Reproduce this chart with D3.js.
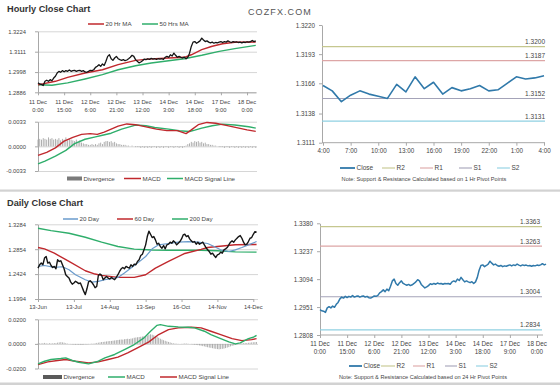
<!DOCTYPE html>
<html><head><meta charset="utf-8">
<script src="https://cdn.jsdelivr.net/npm/d3@7"></script>
<style>
html,body{margin:0;padding:0;background:#fff;}
svg{display:block;}
</style></head><body>
<svg id="chart" width="560" height="385"></svg>
<script>
// ================= DATA =================
const hourTickIdx = [0,15,30,45,60,75,90,105,120];
const hourTickLabels = [["11 Dec","0:00"],["11 Dec","15:00"],["12 Dec","6:00"],["12 Dec","21:00"],["13 Dec","12:00"],["14 Dec","3:00"],["14 Dec","18:00"],["17 Dec","9:00"],["18 Dec","0:00"]];

const hourlyClose = [
1.2938,1.2932,1.2930,1.2924,1.2947,1.2953,1.2947,1.2956,1.2950,1.2965,
1.2975,1.2993,1.3002,1.2997,1.3006,1.3000,1.3006,1.3002,1.3010,1.3002,
1.3006,1.3008,1.3002,1.3006,1.3008,1.3002,1.3006,1.2999,1.2997,1.3002,
1.3008,1.3006,1.3011,1.3024,1.3030,1.3039,1.3030,1.3043,1.3035,1.3058,
1.3085,1.3094,1.3072,1.3063,1.3076,1.3085,1.3072,1.3067,1.3063,1.3067,
1.3061,1.3065,1.3072,1.3080,1.3091,1.3085,1.3067,1.3058,1.3049,1.3054,
1.3061,1.3070,1.3067,1.3072,1.3068,1.3074,1.3070,1.3072,1.3068,1.3072,
1.3070,1.3072,1.3068,1.3080,1.3085,1.3080,1.3094,1.3087,1.3103,1.3091,
1.3080,1.3085,1.3080,1.3076,1.3081,1.3072,1.3080,1.3103,1.3140,1.3164,
1.3167,1.3158,1.3164,1.3171,1.3186,1.3176,1.3167,1.3171,1.3164,1.3160,
1.3164,1.3158,1.3162,1.3160,1.3164,1.3167,1.3162,1.3167,1.3164,1.3171,
1.3166,1.3162,1.3167,1.3164,1.3166,1.3162,1.3164,1.3160,1.3164,1.3162,
1.3166,1.3164,1.3167,1.3173,1.3167,1.3171];

const ma20HourIdx = [0,10,17,27,37,46,56,65,75,84,88,94,100,106,113,125];
const ma20Hour    = [1.2927,1.2947,1.2969,1.2993,1.3011,1.3039,1.3063,1.3071,1.3076,1.3080,1.3094,1.3122,1.3141,1.3155,1.3163,1.3165];
const ma50HourIdx = [0,8,17,27,37,46,56,65,75,84,94,104,113,125];
const ma50Hour    = [1.2928,1.2925,1.2938,1.2960,1.2984,1.3011,1.3033,1.3048,1.3061,1.3072,1.3091,1.3113,1.3128,1.3146];

const macdHourIdx = [0,5,10,15,20,25,30,34,38,42,46,51,56,62,68,74,80,85,88,92,97,102,108,114,120,125];
const macdHour    = [-0.0012,-0.0008,-0.0002,0.0007,0.0012,0.0016,0.0017,0.0016,0.0019,0.0023,0.0027,0.0030,0.0029,0.0026,0.0023,0.0021,0.0021,0.0017,0.0022,0.0029,0.0032,0.0031,0.0028,0.0025,0.0022,0.0020];
const sigHourIdx  = [0,4,10,16,21,27,33,37,42,48,56,62,67,75,81,87,90,94,100,106,113,121,125];
const sigHour     = [-0.00235,-0.00199,-0.00131,-0.00054,0.00036,0.00095,0.00127,0.00149,0.00176,0.00231,0.00285,0.00276,0.00253,0.00231,0.00208,0.00199,0.00217,0.00244,0.00276,0.00298,0.00285,0.00262,0.00244];
const divHour = [
0.0009,0.0010,0.0009,0.0011,0.0010,0.0009,0.0012,0.0010,0.0011,0.0009,
0.0010,0.0009,0.0011,0.0008,0.0010,0.0009,0.0012,0.0008,0.0010,0.0009,
0.0008,0.0007,0.0009,0.0006,0.0008,0.0005,0.0004,0.0003,0.0003,0.0002,
0.0002,0.0003,0.0002,0.0003,0.0002,0.0004,0.0005,0.0003,0.0006,0.0007,
0.0007,0.0006,0.0007,0.0005,0.0006,0.0004,0.0003,0.0003,0.0002,0.0002,
0.0002,0.0001,0.0001,0.0000,0.0001,0.0000,-0.0001,-0.0001,-0.0001,-0.0002,
-0.0001,-0.0002,-0.0001,-0.0002,-0.0001,-0.0002,-0.0001,-0.0001,-0.0002,-0.0001,
-0.0002,-0.0001,-0.0002,-0.0001,-0.0001,-0.0002,-0.0001,-0.0001,-0.0002,-0.0001,
-0.0001,-0.0002,-0.0001,-0.0002,-0.0001,0.0001,0.0003,0.0004,0.0006,0.0005,
0.0007,0.0006,0.0007,0.0005,0.0006,0.0004,0.0005,0.0003,0.0003,0.0002,
0.0002,0.0001,0.0001,0.0000,-0.0001,-0.0001,-0.0001,-0.0002,-0.0001,-0.0001,
-0.0002,-0.0001,-0.0001,-0.0002,-0.0001,-0.0002,-0.0001,-0.0002,-0.0001,-0.0002,
-0.0001,-0.0002,-0.0001,-0.0002,-0.0001,-0.0002];

const hourPriceTicks = [1.2886,1.2998,1.3111,1.3224];
const hourPriceLabels = ["1.2886","1.2998","1.3111","1.3224"];
const hourMacdTicks = [-0.0033,0,0.0033];
const hourMacdLabels = ["-0.0033","0.0000","0.0033"];

// 1-hour pivot chart (top right)
const pivotHourLabels = ["4:00","7:00","10:00","13:00","16:00","19:00","22:00","1:00","4:00"];
const pivotHourTickIdx = [0,3,6,9,12,15,18,21,24];
const pivotHourClose = [1.3164,1.3159,1.3149,1.3155,1.3159,1.3156,1.3154,1.3152,1.3165,1.3158,1.3172,1.3161,1.3167,1.3156,1.3162,1.3159,1.3161,1.3164,1.3159,1.3160,1.3166,1.3172,1.3170,1.3171,1.3173];
const pivotHourTicks = [1.3111,1.3138,1.3166,1.3193,1.3220];
const pivotHourTickLabels = ["1.3111","1.3138","1.3166","1.3193","1.3220"];
const levelNames = ["R2","R1","S1","S2"];
const hourLevels = [1.3200,1.3187,1.3152,1.3131];
const hourLevelLabels = ["1.3200","1.3187","1.3152","1.3131"];

// Daily chart
const dayTickIdx = [0,22,44,66,88,110,132];
const dayTickLabels = ["13-Jun","13-Jul","14-Aug","13-Sep","16-Oct","14-Nov","14-Dec"];
const dailyClose = [
1.2528,1.2585,1.2614,1.2585,1.2700,1.2728,1.2614,1.2631,1.2573,1.2539,
1.2556,1.2516,1.2671,1.2642,1.2654,1.2585,1.2516,1.2413,1.2384,1.2356,
1.2290,1.2250,1.2270,1.2300,1.2280,1.2260,1.2270,1.2200,1.2130,1.2070,
1.2170,1.2290,1.2310,1.2280,1.2240,1.2190,1.2210,1.2400,1.2425,1.2402,
1.2327,1.2356,1.2384,1.2356,1.2339,1.2367,1.2344,1.2327,1.2367,1.2413,
1.2470,1.2516,1.2539,1.2516,1.2556,1.2539,1.2528,1.2585,1.2556,1.2596,
1.2585,1.2642,1.2671,1.2745,1.2768,1.2843,1.2929,1.3072,1.3165,1.3112,
1.3055,1.3072,1.3015,1.2940,1.2957,1.2900,1.2871,1.2917,1.2860,1.2929,
1.2940,1.2975,1.2957,1.2998,1.2975,1.2929,1.2957,1.2986,1.3032,1.3101,
1.3112,1.3072,1.3089,1.3032,1.2998,1.2975,1.2986,1.2940,1.2975,1.2940,
1.2957,1.2975,1.2929,1.2883,1.2843,1.2814,1.2768,1.2785,1.2745,1.2711,
1.2757,1.2768,1.2803,1.2785,1.2843,1.2860,1.2883,1.2929,1.2975,1.2998,
1.2975,1.3015,1.3043,1.3072,1.3089,1.3043,1.2975,1.2929,1.2940,1.2986,
1.3043,1.3055,1.3112,1.3158,1.3147];

const ma20DayIdx = [0,4,10,15,19,23,29,33,37,41,45,49,53,57,61,66,70,74,80,86,92,98,104,108,112,117,121,125,129,134];
const ma20Day    = [1.2556,1.2573,1.2539,1.2551,1.2499,1.2413,1.2327,1.2287,1.2298,1.2327,1.2344,1.2367,1.2442,1.2528,1.2614,1.2728,1.2860,1.2929,1.2952,1.2975,1.2986,1.2975,1.2952,1.2900,1.2843,1.2814,1.2843,1.2883,1.2929,1.2986];
const ma60DayIdx = [0,4,10,19,29,35,39,49,59,66,72,80,90,100,104,110,121,134];
const ma60Day    = [1.2883,1.2860,1.2785,1.2642,1.2482,1.2425,1.2402,1.2367,1.2367,1.2413,1.2528,1.2642,1.2780,1.2850,1.2883,1.2900,1.2930,1.2935];
const ma200DayIdx = [0,8,19,29,39,49,59,70,80,90,100,110,121,134];
const ma200Day    = [1.3215,1.3175,1.3129,1.3060,1.2975,1.2900,1.2855,1.2840,1.2837,1.2837,1.2837,1.2826,1.2808,1.2803];

const macdDayIdx = [0,4,8,14,17,21,25,31,37,41,47,53,59,65,69,73,75,80,86,92,96,102,106,112,117,121,124,129,132,134];
const macdDay    = [-0.0162,-0.0141,-0.0127,-0.0119,-0.0114,-0.0135,-0.0149,-0.0162,-0.0141,-0.0114,-0.0086,-0.0046,-0.0005,0.0049,0.0103,0.0151,0.0157,0.0143,0.0138,0.0135,0.0130,0.0103,0.0076,0.0043,0.0016,0.0000,0.0008,0.0043,0.0054,0.0070];
const sigDayIdx = [0,6,12,17,23,31,37,43,49,55,61,68,74,80,86,94,100,106,112,119,125,131,134];
const sigDay    = [-0.0168,-0.0146,-0.0135,-0.0127,-0.0141,-0.0154,-0.0146,-0.0127,-0.0108,-0.0073,-0.0032,0.0016,0.0076,0.0116,0.0130,0.0135,0.0130,0.0103,0.0076,0.0043,0.0027,0.0035,0.0043];
const divDay = [
0.0003,0.0005,0.0004,0.0006,0.0008,0.0005,0.0003,0.0006,0.0004,0.0005,
0.0007,0.0006,0.0010,0.0012,0.0014,0.0012,0.0010,0.0006,0.0003,0.0001,
-0.0002,-0.0004,-0.0005,-0.0006,-0.0005,-0.0007,-0.0006,-0.0008,-0.0005,-0.0003,
-0.0004,-0.0002,0.0001,0.0003,0.0002,0.0005,0.0008,0.0010,0.0012,0.0015,
0.0016,0.0018,0.0020,0.0022,0.0023,0.0024,0.0026,0.0028,0.0030,0.0032,
0.0034,0.0036,0.0035,0.0038,0.0040,0.0042,0.0040,0.0043,0.0045,0.0050,
0.0052,0.0054,0.0056,0.0058,0.0060,0.0063,0.0065,0.0068,0.0075,0.0078,
0.0075,0.0070,0.0065,0.0060,0.0050,0.0042,0.0035,0.0030,0.0025,0.0020,
0.0016,0.0012,0.0008,0.0005,0.0003,0.0002,0.0001,0.0000,-0.0001,0.0002,
0.0004,0.0003,0.0002,0.0000,-0.0002,-0.0004,-0.0006,-0.0008,-0.0010,-0.0012,
-0.0015,-0.0018,-0.0020,-0.0024,-0.0027,-0.0030,-0.0032,-0.0035,-0.0038,-0.0040,
-0.0042,-0.0044,-0.0042,-0.0040,-0.0038,-0.0034,-0.0030,-0.0026,-0.0020,-0.0016,
-0.0012,-0.0008,-0.0004,0.0000,0.0003,0.0005,0.0006,0.0008,0.0007,0.0009,
0.0010,0.0012,0.0013,0.0014,0.0015];

const dayPriceTicks = [1.1994,1.2424,1.2854,1.3284];
const dayPriceLabels = ["1.1994","1.2424","1.2854","1.3284"];
const dayMacdTicks = [-0.02,0,0.02];
const dayMacdLabels = ["-0.0200","0.0000","0.0200"];

// 24-hour pivot chart (bottom right) uses hourlyClose
const pivotDayTicks = [1.2808,1.2951,1.3094,1.3237,1.3380];
const pivotDayTickLabels = ["1.2808","1.2951","1.3094","1.3237","1.3380"];
const dayLevels = [1.3363,1.3263,1.3004,1.2834];
const dayLevelLabels = ["1.3363","1.3263","1.3004","1.2834"];

// ================= STYLE =================
const FONT = '"Liberation Sans", Arial, Helvetica, sans-serif';
const C_RED = "#c0282d", C_GREEN = "#2fae6b", C_BLUE = "#6a9bcc", C_BLACK = "#151515";
const C_CLOSE = "#3079aa";
const levelColors = ["#c5c78f","#dda6a6","#a4a3b8","#8fd0e2"];
const AXC = "#a8a8a8", GRIDC = "#d6d6d6", TXT = "#454545";

const svg = d3.select("#chart").attr("font-family", FONT);

function txt(x, y, s, o = {}) {
  return svg.append("text").attr("x", x).attr("y", y).text(s)
    .attr("font-size", o.size || 6).attr("fill", o.fill || TXT)
    .attr("text-anchor", o.anchor || "start")
    .attr("font-weight", o.weight || "normal")
    .attr("dy", o.dy || 0);
}
function styleAxis(g, size) {
  g.attr("font-size", size).attr("font-family", FONT);
  g.select(".domain").attr("stroke", AXC);
  g.selectAll(".tick line").attr("stroke", AXC);
  g.selectAll(".tick text").attr("fill", TXT);
}

function leftPanel(x, y, ticks, labels, x0, x1) {
  svg.append("g").attr("transform", `translate(${x0},0)`)
    .call(d3.axisLeft(y).tickValues(ticks).tickSize(-(x1 - x0)).tickFormat(""))
    .call(g => { g.select(".domain").remove(); g.selectAll(".tick line").attr("stroke", GRIDC); });
  svg.append("g").attr("transform", `translate(${x0},0)`)
    .call(d3.axisLeft(y).tickValues(ticks).tickSize(3).tickSizeOuter(0).tickPadding(9).tickFormat((d, i) => labels[i]))
    .call(g => styleAxis(g, 5.8));
}
function bottomTicks(x, yPos, idx) {
  svg.append("g").attr("transform", `translate(0,${yPos})`)
    .call(d3.axisBottom(x).tickValues(idx).tickSize(3).tickSizeOuter(0).tickFormat(""))
    .call(g => styleAxis(g, 5.8));
}
function pathLine(xs, ys, x, y, color, w) {
  const line = d3.line().x(d => x(d[0])).y(d => y(d[1]));
  svg.append("path").datum(d3.zip(xs, ys)).attr("d", line)
    .attr("fill", "none").attr("stroke", color).attr("stroke-width", w)
    .attr("stroke-linejoin", "round");
}
function bars(vals, x, y, color) {
  svg.append("g").selectAll("rect").data(vals).join("rect")
    .attr("x", (d, i) => x(i) - 0.45).attr("width", 0.9)
    .attr("y", d => Math.min(y(0), y(d))).attr("height", d => Math.abs(y(d) - y(0)))
    .attr("fill", color);
}
function legend(items, y, size) {
  items.forEach(it => {
    if (it.type === "bar") {
      svg.append("rect").attr("x", it.a).attr("y", y - 2).attr("width", it.b - it.a).attr("height", 4).attr("fill", it.color);
    } else {
      svg.append("line").attr("x1", it.a).attr("x2", it.b).attr("y1", y).attr("y2", y)
        .attr("stroke", it.color).attr("stroke-width", it.w || 1.5);
    }
    txt(it.b + 1.5, y, it.label, { size: size, dy: "0.35em" });
  });
}

// ================= FRAME =================
svg.append("rect").attr("x", 0).attr("y", 189.5).attr("width", 560).attr("height", 2.2).attr("fill", "#d2d2d2");
svg.append("rect").attr("x", 0).attr("y", 382.5).attr("width", 560).attr("height", 2.5).attr("fill", "#d2d2d2");
txt(7, 11.5, "Hourly Close Chart", { size: 9.2, weight: "bold", fill: "#333" });
txt(7, 205.5, "Daily Close Chart", { size: 9.2, weight: "bold", fill: "#333" });
txt(248, 14.5, "COZFX.COM", { size: 9, fill: "#555" }).attr("letter-spacing", "1.1px");

// ================= HOURLY PRICE (top-left) =================
const xH = d3.scaleLinear().domain([0, 125]).range([38, 255.75]);
const yHP = d3.scaleLinear().domain([1.2886, 1.3224]).range([92.3, 31.3]);
leftPanel(xH, yHP, hourPriceTicks, hourPriceLabels, 38, 257);
bottomTicks(xH, 92.3, hourTickIdx);
hourTickIdx.forEach((t, i) => {
  txt(xH(t), 104, hourTickLabels[i][0], { size: 5.8, anchor: "middle" });
  txt(xH(t), 112, hourTickLabels[i][1], { size: 5.8, anchor: "middle" });
});
pathLine(ma50HourIdx, ma50Hour, xH, yHP, C_GREEN, 1.4);
pathLine(ma20HourIdx, ma20Hour, xH, yHP, C_RED, 1.4);
pathLine(d3.range(hourlyClose.length), hourlyClose, xH, yHP, C_BLACK, 1.3);
legend([
  { a: 88, b: 104, color: C_RED, label: "20 Hr MA" },
  { a: 142, b: 158, color: C_GREEN, label: "50 Hrs MA" }
], 24, 6.2);

// ================= HOURLY MACD =================
const yHM = d3.scaleLinear().domain([-0.0033, 0.0033]).range([171, 121.7]);
leftPanel(xH, yHM, hourMacdTicks, hourMacdLabels, 38, 257);
bars(divHour, xH, yHM, "#a6a6a6");
pathLine(sigHourIdx, sigHour, xH, yHM, C_GREEN, 1.4);
pathLine(macdHourIdx, macdHour, xH, yHM, C_RED, 1.4);
legend([
  { type: "bar", a: 67, b: 82, color: "#7a7a7a", label: "Divergence" },
  { a: 124, b: 141, color: C_RED, label: "MACD" },
  { a: 167, b: 183, color: C_GREEN, label: "MACD Signal Line" }
], 178.5, 6.2);

// ================= TOP-RIGHT 1 Hr pivot =================
const xP1 = d3.scaleLinear().domain([0, 24]).range([323, 544]);
const yP1 = d3.scaleLinear().domain([1.3111, 1.3220]).range([142.7, 25]);
svg.append("g").attr("transform", "translate(322,0)")
  .call(d3.axisLeft(yP1).tickValues(pivotHourTicks).tickSize(3).tickSizeOuter(0).tickPadding(4).tickFormat((d, i) => pivotHourTickLabels[i]))
  .call(g => styleAxis(g, 6.3));
svg.append("g").attr("transform", "translate(0,142.7)")
  .call(d3.axisBottom(xP1).tickValues(pivotHourTickIdx).tickSize(3).tickSizeOuter(0).tickPadding(3).tickFormat((d, i) => pivotHourLabels[i]))
  .call(g => { styleAxis(g, 6.3); g.select(".domain").attr("d", "M322,0H545"); });
hourLevels.forEach((v, i) => {
  svg.append("line").attr("x1", 322).attr("x2", 545).attr("y1", yP1(v)).attr("y2", yP1(v))
    .attr("stroke", levelColors[i]).attr("stroke-width", 1.1);
  txt(545, yP1(v) - 2.5, hourLevelLabels[i], { size: 6.5, anchor: "end" });
});
pathLine(d3.range(pivotHourClose.length), pivotHourClose, xP1, yP1, C_CLOSE, 1.6);
legend([
  { a: 340, b: 355, color: C_CLOSE, label: "Close", w: 1.8 },
  { a: 382, b: 395, color: levelColors[0], label: "R2", w: 1.1 },
  { a: 420, b: 433, color: levelColors[1], label: "R1", w: 1.1 },
  { a: 459, b: 472, color: levelColors[2], label: "S1", w: 1.1 },
  { a: 497, b: 510, color: levelColors[3], label: "S2", w: 1.1 }
], 168, 6.5);
txt(424, 180.5, "Note: Support & Resistance Calculated based on 1 Hr Pivot Points", { size: 5.6, anchor: "middle" });

// ================= DAILY PRICE =================
const xD = d3.scaleLinear().domain([0, 132]).range([38, 253.3]);
const yDP = d3.scaleLinear().domain([1.1994, 1.3284]).range([299, 224.3]);
leftPanel(xD, yDP, dayPriceTicks, dayPriceLabels, 38, 258);
bottomTicks(xD, 299, dayTickIdx);
dayTickIdx.forEach((t, i) => txt(xD(t), 309, dayTickLabels[i], { size: 5.8, anchor: "middle" }));
pathLine(ma200DayIdx, ma200Day, xD, yDP, C_GREEN, 1.4);
pathLine(ma60DayIdx, ma60Day, xD, yDP, C_RED, 1.4);
pathLine(ma20DayIdx, ma20Day, xD, yDP, C_BLUE, 1.2);
pathLine(d3.range(dailyClose.length), dailyClose, xD, yDP, C_BLACK, 1.4);
legend([
  { a: 63, b: 78, color: C_BLUE, label: "20 Day" },
  { a: 117, b: 133, color: C_RED, label: "60 Day" },
  { a: 172, b: 188, color: C_GREEN, label: "200 Day" }
], 219, 6.2);

// ================= DAILY MACD =================
const yDM = d3.scaleLinear().domain([-0.02, 0.02]).range([368.5, 319.3]);
leftPanel(xD, yDM, dayMacdTicks, dayMacdLabels, 38, 258);
bars(divDay, xD, yDM, "#a6a6a6");
pathLine(sigDayIdx, sigDay, xD, yDM, C_RED, 1.4);
pathLine(macdDayIdx, macdDay, xD, yDM, C_GREEN, 1.4);
legend([
  { type: "bar", a: 43, b: 62, color: "#5a5a5a", label: "Divergence" },
  { a: 108, b: 125, color: C_GREEN, label: "MACD" },
  { a: 160, b: 177, color: C_RED, label: "MACD Signal Line" }
], 377, 6.2);

// ================= BOTTOM-RIGHT 24 Hr pivot =================
const xP2 = d3.scaleLinear().domain([0, 120]).range([320, 537]);
const yP2 = d3.scaleLinear().domain([1.2808, 1.3380]).range([335, 223.3]);
svg.append("g").attr("transform", "translate(320,0)")
  .call(d3.axisLeft(yP2).tickValues(pivotDayTicks).tickSize(3).tickSizeOuter(0).tickPadding(4).tickFormat((d, i) => pivotDayTickLabels[i]))
  .call(g => styleAxis(g, 6.3));
svg.append("g").attr("transform", "translate(0,335)")
  .call(d3.axisBottom(xP2).tickValues(hourTickIdx).tickSize(3).tickSizeOuter(0).tickFormat(""))
  .call(g => { styleAxis(g, 6.3); g.select(".domain").attr("d", "M320,0H543"); });
hourTickIdx.forEach((t, i) => {
  txt(xP2(t), 346, hourTickLabels[i][0], { size: 6.3, anchor: "middle" });
  txt(xP2(t), 354, hourTickLabels[i][1], { size: 6.3, anchor: "middle" });
});
dayLevels.forEach((v, i) => {
  svg.append("line").attr("x1", 320).attr("x2", 542).attr("y1", yP2(v)).attr("y2", yP2(v))
    .attr("stroke", levelColors[i]).attr("stroke-width", 1.1);
  txt(540, yP2(v) - 2.5, dayLevelLabels[i], { size: 6.5, anchor: "end" });
});
pathLine(d3.range(hourlyClose.length), hourlyClose, xP2, yP2, C_CLOSE, 1.5);
legend([
  { a: 349, b: 362, color: C_CLOSE, label: "Close", w: 1.8 },
  { a: 381, b: 395, color: levelColors[0], label: "R2", w: 1.1 },
  { a: 413, b: 425, color: levelColors[1], label: "R1", w: 1.1 },
  { a: 445, b: 457, color: levelColors[2], label: "S1", w: 1.1 },
  { a: 476, b: 488, color: levelColors[3], label: "S2", w: 1.1 }
], 366, 6.5);
txt(423, 378.5, "Note: Support & Resistance Calculated based on 24 Hr Pivot Points", { size: 5.6, anchor: "middle" });
</script>
</body></html>
